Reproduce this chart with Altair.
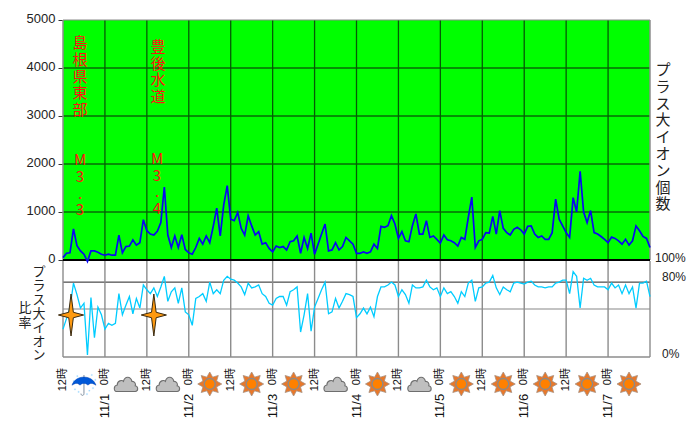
import altair as alt
import pandas as pd

TOP = [50,140,150,650,300,190,120,-30,190,190,160,120,100,120,100,100,520,150,280,290,
       420,310,360,840,610,540,520,600,780,1520,520,260,500,260,525,220,150,120,260,450,
       330,500,360,700,1080,500,1150,1550,850,820,990,660,520,920,710,520,590,330,360,240,
       170,290,260,280,210,380,400,500,140,470,240,560,120,330,540,750,190,210,360,210,
       280,470,400,330,140,140,170,140,170,330,240,700,680,715,925,750,450,590,400,380,
       715,960,540,540,820,470,500,430,350,520,420,400,360,290,470,430,890,1310,260,400,
       430,570,560,910,540,1030,660,570,520,640,680,630,540,700,710,540,470,500,430,430,
       570,1270,850,710,570,470,1300,1000,1850,1000,780,1030,570,540,490,430,360,480,450,400,
       330,430,310,400,710,610,490,450,260]
LOW = [29,40,51,77,65,51,56,2,62,20,52,44,29,35,33,35,66,44,54,63,
       45,61,51,75,70,66,72,63,73,84,58,68,72,56,72,47,44,33,61,63,
       66,58,78,66,70,66,80,84,81,80,77,73,65,77,72,73,75,66,63,56,
       54,61,63,63,54,68,70,73,26,44,66,27,52,61,70,78,45,47,61,51,
       58,66,65,63,41,45,51,45,52,42,63,73,73,75,78,75,63,70,65,56,
       75,72,72,73,80,73,70,72,63,72,66,68,63,56,68,63,77,80,58,72,
       73,77,78,85,72,65,73,70,68,77,78,77,76,78,79,75,73,73,72,73,
       73,77,78,80,80,66,89,84,51,82,80,82,75,73,73,73,70,77,72,75,
       66,75,66,73,51,77,77,79,63]
GRID_HOURS = list(range(0, 169, 12))
TICK_HOURS = list(range(0, 157, 12))
TICK_LABELS = ["12時", "0時"] * 7
DATE_HOURS = [12, 36, 60, 84, 108, 132, 156]
DATE_LABELS = ["11/1", "11/2", "11/3", "11/4", "11/5", "11/6", "11/7"]
WEATHER = ["rain","cloud","cloud","sun","sun","sun","cloud","sun","cloud","sun","sun","sun","sun","sun"]
WEATHER_HOURS = [6 + 12 * i for i in range(14)]
QUAKE_HOURS = [2.3, 26]
UPPER_LINES = [1000, 2000, 3000, 4000]

FONT = "Liberation Sans, Noto Sans CJK JP, sans-serif"
CJK = "Noto Sans CJK JP, sans-serif"
UP = alt.Scale(domain=[0, 5000], range=[240, 0])
LO = alt.Scale(domain=[0, 100], range=[337, 241])
XS = alt.Scale(domain=[0, 168], nice=False, zero=False)
XNOAX = alt.X("h:Q", scale=XS, axis=None)

series = pd.DataFrame({"h": list(range(len(TOP))), "top": TOP, "low": LOW})
grid = pd.DataFrame({"h": GRID_HOURS})
one = pd.DataFrame({"a": [1]})


def yu(f="v"):
    return alt.Y(f"{f}:Q", scale=UP, axis=None)


def yl(f="v"):
    return alt.Y(f"{f}:Q", scale=LO, axis=None)


def vrule(df, color, width, scale, y0, y1):
    d = df.assign(a=y0, b=y1)
    return alt.Chart(d).mark_rule(color=color, strokeWidth=width).encode(
        x=XNOAX,
        y=alt.Y("a:Q", scale=scale, axis=None),
        y2="b:Q",
    )


def hrule(vals, color, width, scale):
    d = pd.DataFrame({"v": vals, "x0": [0] * len(vals), "x1": [168] * len(vals)})
    return alt.Chart(d).mark_rule(color=color, strokeWidth=width).encode(
        x=alt.X("x0:Q", scale=XS, axis=None),
        x2="x1:Q",
        y=alt.Y("v:Q", scale=scale, axis=None),
    )


def stacked(text, px, py, color, size, lh, font=CJK):
    return alt.Chart(one).mark_text(
        text=text, lineBreak="\n", lineHeight=lh, baseline="top", align="center",
        color=color, fontSize=size, font=font,
    ).encode(x=alt.value(px - 63), y=alt.value(py - 20))


def plain(text, px, py, size=12, align="left", color="#222222"):
    return alt.Chart(one).mark_text(
        text=text, align=align, baseline="middle", color=color, fontSize=size, font=FONT,
    ).encode(x=alt.value(px - 63), y=alt.value(py - 20))


green = alt.Chart(pd.DataFrame({"a": [0], "b": [168], "c": [0], "d": [5000]})).mark_rect(
    color="#00ff00"
).encode(
    x=alt.X("a:Q", scale=XS, axis=None),
    x2="b:Q",
    y=alt.Y("c:Q", scale=UP, axis=alt.Axis(
        values=[0, 1000, 2000, 3000, 4000, 5000], format="d", grid=False, domain=False,
        tickSize=5, tickColor="#333333", labelFont=FONT, labelFontSize=13,
        labelColor="#222222", labelPadding=3, labelOffset=-2, title=None)),
    y2="d:Q",
)

line_top = alt.Chart(series).mark_line(color="#0808f0", strokeWidth=1.7).encode(x=XNOAX, y=yu("top"))
line_low = alt.Chart(series).mark_line(color="#00ccff", strokeWidth=1.3).encode(x=XNOAX, y=yl("low"))

ticks = alt.Chart(pd.DataFrame({"h": TICK_HOURS, "t": TICK_LABELS})).mark_text(
    angle=270, align="right", baseline="middle", fontSize=11, font=FONT, color="#111111"
).encode(x=XNOAX, y=alt.value(348), text="t:N")

dates = alt.Chart(pd.DataFrame({"h": DATE_HOURS, "t": DATE_LABELS})).mark_text(
    angle=270, align="center", baseline="middle", fontSize=13, font=FONT, color="#111111"
).encode(x=XNOAX, y=alt.value(386), text="t:N")

STAR = "M0,-1 L0.11,-0.13 L0.6,0 L0.11,0.13 L0,1 L-0.11,0.13 L-0.6,0 L-0.11,-0.13 Z"
RAYS = ("M0,-1 L0.24,-0.57 L0.71,-0.71 L0.57,-0.24 L1,0 L0.57,0.24 L0.71,0.71 L0.24,0.57 "
        "L0,1 L-0.24,0.57 L-0.71,0.71 L-0.57,0.24 L-1,0 L-0.57,-0.24 L-0.71,-0.71 L-0.24,-0.57 Z")
CLOUD = ("M-0.8,0.62 C-1.02,0.62 -1.05,0.12 -0.72,0.08 C-0.72,-0.3 -0.32,-0.35 -0.2,-0.22 "
         "C-0.1,-0.68 0.4,-0.68 0.5,-0.22 C0.72,-0.25 0.85,0 0.78,0.15 C1.05,0.2 1.05,0.62 0.78,0.62 Z")
CANOPY = "M-1,0.1 C-0.7,-0.8 0.7,-0.8 1,0.1 C0.7,-0.1 0.5,-0.1 0.33,0.1 C0.2,-0.1 -0.2,-0.1 -0.33,0.1 C-0.5,-0.1 -0.7,-0.1 -1,0.1 Z"
STEM = "M0,-0.75 L0,0.8 C0,1 -0.25,1 -0.25,0.8"
DROPS = ("M-0.8,0.4 h0.1 v0.1 h-0.1 Z M-0.5,0.6 h0.1 v0.1 h-0.1 Z M0.4,0.5 h0.1 v0.1 h-0.1 Z "
         "M0.7,0.3 h0.1 v0.1 h-0.1 Z M0.2,0.8 h0.1 v0.1 h-0.1 Z M-0.6,-0.7 h0.1 v0.1 h-0.1 Z "
         "M0.6,-0.8 h0.1 v0.1 h-0.1 Z M-0.9,-0.3 h0.1 v0.1 h-0.1 Z M0.9,-0.4 h0.1 v0.1 h-0.1 Z")

wx = pd.DataFrame({"h": WEATHER_HOURS, "w": WEATHER})


def mk_icon(kind, shape, size, fill, stroke, sw):
    return alt.Chart(wx[wx.w == kind]).mark_point(
        shape=shape, size=size, filled=True, color=fill, stroke=stroke,
        strokeWidth=sw, opacity=1,
    ).encode(x=XNOAX, y=alt.value(364))


icons = [
    mk_icon("sun", RAYS, 576, "#e8782a", "#a89080", 0.8),
    mk_icon("sun", "circle", 120, "#ff8000", "#8a8a8a", 1.4),
    mk_icon("cloud", CLOUD, 576, "#bfbfbf", "#6e6e6e", 1.1),
    mk_icon("rain", DROPS, 576, "#a8dcff", "#a8dcff", 0.3),
    alt.Chart(wx[wx.w == "rain"]).mark_point(
        shape=STEM, size=576, filled=False, stroke="#8090a0", strokeWidth=1, opacity=1
    ).encode(x=XNOAX, y=alt.value(364)),
    mk_icon("rain", CANOPY, 576, "#0058d8", "#0040b0", 0.5),
]

stars = alt.Chart(pd.DataFrame({"h": QUAKE_HOURS})).mark_point(
    shape=STAR, size=1764, filled=True, color="#ff9a10", stroke="#3a2a10", strokeWidth=1, opacity=1
).encode(x=XNOAX, y=alt.value(295))

layers = [
    green,
    hrule(UPPER_LINES, "#0a200a", 1, UP),
    vrule(grid[(grid.h > 0) & (grid.h < 168)], "#065a06", 1.3, UP, 0, 5000),
    hrule([5000], "#8c8c8c", 1.2, UP),
    vrule(grid[grid.h == 0], "#8c8c8c", 1.5, UP, 0, 5000),
    vrule(grid[grid.h == 168], "#8c8c8c", 1.5, UP, 0, 5000),
    hrule([78], "#222222", 1, LO),
    hrule([50], "#888888", 1.2, LO),
    vrule(grid, "#8c8c8c", 1.4, LO, 0, 100),
    hrule([0], "#8c8c8c", 1.6, LO),
    line_low,
    hrule([0], "#000000", 2, UP),
    line_top,
    ticks,
    dates,
    stars,
    *icons,
    stacked("島\n根\n県\n東\n部", 80, 36, "#ff1010", 15, 16.8),
    stacked("M\n3\n.\n3", 80, 153, "#ff1010", 15, 16.8),
    stacked("豊\n後\n水\n道", 158, 40, "#ff1010", 15, 16.7),
    stacked("M\n3\n.\n4", 157, 152, "#ff1010", 15, 16.7),
    stacked("プ\nラ\nス\n大\nイ\nオ\nン\n個\n数", 663, 63, "#222222", 15, 16.8),
    stacked("プ\nラ\nス\n大\nイ\nオ\nン", 39, 266, "#222222", 13, 13.9),
    stacked("比\n率", 25, 302, "#222222", 13, 14.5),
    plain("100%", 655, 258),
    plain("80%", 662, 277),
    plain("0%", 662, 354),
]

chart = alt.layer(*layers).resolve_scale(y="independent").properties(
    width=587, height=337, autosize=alt.AutoSizeParams(type="none"),
    padding={"left": 55, "top": 12, "right": 42, "bottom": 71},
    background="white",
).configure_view(stroke=None)

chart.save("out.html", embed_options={"renderer": "svg", "actions": False})
